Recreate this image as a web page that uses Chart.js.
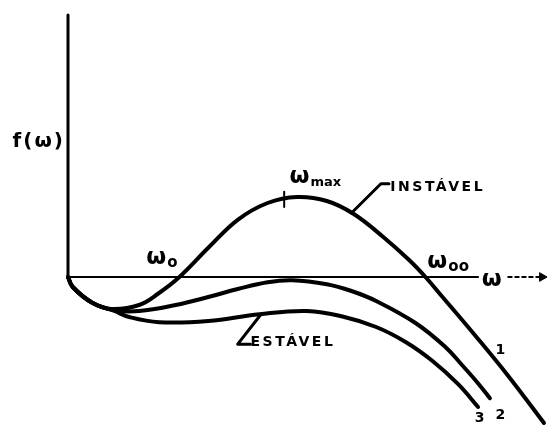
<!DOCTYPE html>
<html>
<head>
<meta charset="utf-8">
<script src="https://cdn.jsdelivr.net/npm/chart.js@4/dist/chart.umd.min.js"></script>
<style>
  html, body { margin: 0; padding: 0; background: #fff; }
  #wrap { width: 554px; height: 427px; }
</style>
</head>
<body>
<div id="wrap"><canvas id="curves"></canvas></div>
<script>
// curve 1 (unstable)
const omega1 = [0, 0.1, 0.52, 0.92, 1.5, 1.92, 2.35, 2.96, 3.58, 4.21, 4.83, 5.46, 6.02, 6.65, 7.19, 7.54, 7.9, 8.58, 9.27, 10.04];
const f1 = [0, -0.25, -0.65, -0.8, -0.7, -0.4, 0, 0.73, 1.43, 1.85, 2.0, 1.9, 1.58, 1.0, 0.43, 0, -0.5, -1.45, -2.45, -3.65];
// curve 2
const omega2 = [0, 0.1, 0.52, 0.98, 1.5, 2.27, 2.96, 3.58, 4.21, 4.73, 5.46, 5.98, 6.5, 7.33, 7.96, 8.31, 8.63, 8.9];
const f2 = [0, -0.25, -0.65, -0.83, -0.85, -0.7, -0.5, -0.3, -0.13, -0.08, -0.18, -0.35, -0.6, -1.15, -1.75, -2.2, -2.63, -3.03];
// curve 3
const omega3 = [0, 0.1, 0.52, 0.98, 1.29, 1.92, 2.96, 4.04, 5.04, 5.77, 6.5, 7.13, 7.69, 8.23, 8.65];
const f3 = [0, -0.25, -0.65, -0.85, -1.0, -1.13, -1.1, -0.93, -0.85, -0.98, -1.25, -1.63, -2.1, -2.68, -3.25];

// axes and small marks
const yAxisTop = 6.55;
const xAxisEnd = 8.65;
const arrowFrom = 9.27, arrowTo = 10.0;
const omegaMax = 4.56, tickLow = 1.75, tickHigh = 2.13;
const leaderUnstable = [[5.98, 1.6], [6.6, 2.33], [6.77, 2.33]];
const leaderStable = [[4.06, -0.95], [3.58, -1.68], [3.85, -1.68]];

const toPts = (xs, ys) => xs.map((x, i) => ({x: x, y: ys[i]}));

function line(data, width, extra) {
  return Object.assign({
    data: data,
    showLine: true,
    borderColor: "#000",
    borderWidth: width,
    pointRadius: 0,
    borderCapStyle: "round",
    borderJoinStyle: "round",
    clip: false
  }, extra || {});
}

function curve(xs, ys) {
  return line(toPts(xs, ys), 4, {tension: 0.4});
}

// text: [main, sub, omega, f, size, subSize, spacing]
const texts = [
  ["f(ω)", "", -1.17, 3.38, 20, 0, 2],
  ["ω", "max", 4.67, 2.5, 23, 13, 0],
  ["ω", "o", 1.65, 0.48, 23, 15, 0],
  ["ω", "oo", 7.58, 0.38, 23, 15, 0],
  ["ω", "", 8.73, -0.08, 23, 0, 0],
  ["INSTÁVEL", "", 6.8, 2.25, 14, 0, 2.5],
  ["ESTÁVEL", "", 3.85, -1.63, 14, 0, 2.5],
  ["1", "", 9.02, -1.83, 14, 0, 0],
  ["2", "", 9.02, -3.45, 14, 0, 0],
  ["3", "", 8.58, -3.53, 14, 0, 0]
];

const lettering = {
  id: "lettering",
  afterDraw(chart) {
    const ctx = chart.ctx;
    const sx = chart.scales.x, sy = chart.scales.y;
    ctx.save();
    ctx.fillStyle = "#000";
    ctx.textBaseline = "middle";
    ctx.textAlign = "left";
    texts.forEach(t => {
      const px = sx.getPixelForValue(t[2]);
      const py = sy.getPixelForValue(t[3]);
      ctx.font = "bold " + t[4] + "px 'DejaVu Sans'";
      ctx.letterSpacing = t[6] + "px";
      ctx.fillText(t[0], px, py);
      if (t[1]) {
        const w = ctx.measureText(t[0]).width;
        ctx.font = "bold " + t[5] + "px 'DejaVu Sans'";
        ctx.letterSpacing = "0px";
        ctx.fillText(t[1], px + w + 1, py + t[4] * 0.25);
      }
    });
    ctx.restore();
  }
};

new Chart(document.getElementById("curves"), {
  type: "scatter",
  data: {
    datasets: [
      line([{x: 0, y: 0}, {x: 0, y: yAxisTop}], 3),
      line([{x: 0, y: 0}, {x: xAxisEnd, y: 0}], 2),
      line([{x: arrowFrom, y: 0}, {x: arrowTo, y: 0}], 2, {
        borderDash: [5, 2],
        borderCapStyle: "butt",
        pointStyle: "triangle",
        pointRadius: [0, 5],
        rotation: 90,
        pointBackgroundColor: "#000",
        pointBorderColor: "#000",
        pointBorderWidth: 1
      }),
      curve(omega1, f1),
      curve(omega2, f2),
      curve(omega3, f3),
      line([{x: omegaMax, y: tickLow}, {x: omegaMax, y: tickHigh}], 2),
      line(leaderUnstable.map(p => ({x: p[0], y: p[1]})), 3),
      line(leaderStable.map(p => ({x: p[0], y: p[1]})), 3)
    ]
  },
  options: {
    responsive: true,
    maintainAspectRatio: false,
    animation: false,
    layout: {padding: {left: 68, right: 0, top: 15, bottom: 10}},
    scales: {
      x: {type: "linear", min: 0, max: 10.125, display: false},
      y: {type: "linear", min: -3.5, max: 6.55, display: false}
    },
    plugins: {
      legend: {display: false},
      tooltip: {enabled: false}
    }
  },
  plugins: [lettering]
});
</script>
</body>
</html>
